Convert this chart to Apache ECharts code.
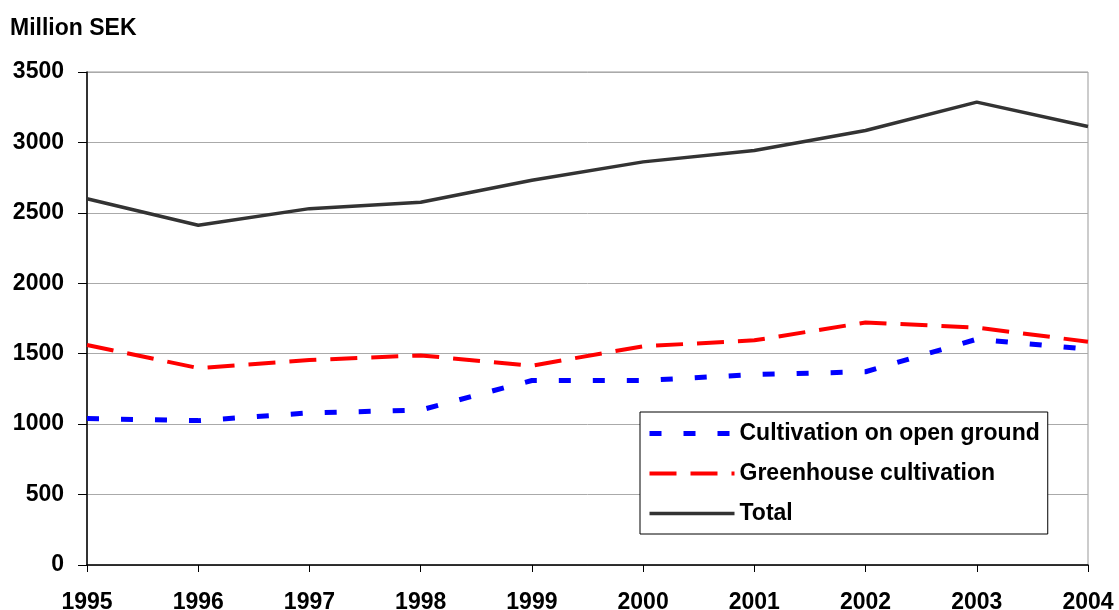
<!DOCTYPE html>
<html>
<head>
<meta charset="utf-8">
<script src="https://cdn.jsdelivr.net/npm/echarts@6/dist/echarts.min.js"></script>
<style>
  html, body { margin: 0; padding: 0; background: #fff; }
  #chart { width: 1119px; height: 610px; }
</style>
</head>
<body>
<div id="chart"></div>
<script>
// data
const years = ['1995', '1996', '1997', '1998', '1999', '2000', '2001', '2002', '2003', '2004']
const openGround = [1040, 1025, 1080, 1100, 1310, 1310, 1352, 1372, 1603, 1532]
const greenhouse = [1562, 1398, 1455, 1488, 1415, 1553, 1595, 1722, 1686, 1585]
const total = [2600, 2412, 2530, 2575, 2732, 2862, 2943, 3085, 3286, 3113]

const font = '"Liberation Sans", Arial, sans-serif'

// line looks, shared by series and legend
const blueLine = { color: '#0000ff', width: 5, type: [12, 22] }
const redLine = { color: '#ff0000', width: 4, type: [27, 14] }
const totalLine = { color: '#333333', width: 3.5, type: 'solid' }
const noSymbol = { color: 'rgba(0,0,0,0)', borderWidth: 0, opacity: 0 }

const chart = echarts.init(document.getElementById('chart'))
const option = {
  animation: false,
  title: {
    text: 'Million SEK',
    left: 10,
    top: 17,
    padding: 0,
    textStyle: { fontFamily: font, fontSize: 23, fontWeight: 'bold', color: '#000' }
  },
  grid: {
    left: 87,
    right: 31,
    top: 72,
    bottom: 45,
    outerBoundsMode: 'none',
    containLabel: false,
    show: true,
    borderColor: '#999',
    borderWidth: 1
  },
  legend: {
    left: 640,
    top: 412,
    orient: 'vertical',
    itemWidth: 85,
    itemHeight: 20,
    itemGap: 17,
    padding: [10, 8, 9, 7],
    borderColor: '#000',
    borderWidth: 1,
    backgroundColor: '#fff',
    data: [
      { name: 'Cultivation on open ground', lineStyle: blueLine, itemStyle: noSymbol },
      { name: 'Greenhouse cultivation', lineStyle: redLine, itemStyle: noSymbol },
      { name: 'Total', lineStyle: totalLine, itemStyle: noSymbol }
    ],
    textStyle: { fontFamily: font, fontSize: 23, fontWeight: 'bold', color: '#000' }
  },
  xAxis: {
    type: 'category',
    data: years,
    boundaryGap: false,
    axisLine: { lineStyle: { color: '#000', width: 1.5 } },
    axisTick: { show: true, length: 7, lineStyle: { color: '#000' } },
    axisLabel: { margin: 26, fontFamily: font, fontSize: 23, fontWeight: 'bold', color: '#000' }
  },
  yAxis: {
    type: 'value',
    min: 0,
    max: 3500,
    interval: 500,
    axisLine: { show: true, lineStyle: { color: '#000', width: 1.5 } },
    axisTick: { show: true, length: 9, lineStyle: { color: '#000' } },
    splitLine: { lineStyle: { color: '#aaa', width: 1 } },
    axisLabel: {
      margin: 23,
      fontFamily: font,
      fontSize: 23,
      fontWeight: 'bold',
      color: '#000',
      formatter: v => String(v)
    }
  },
  series: [
    {
      name: 'Cultivation on open ground',
      type: 'line',
      data: openGround,
      symbol: 'none',
      color: '#0000ff',
      lineStyle: blueLine,
      z: 3
    },
    {
      name: 'Greenhouse cultivation',
      type: 'line',
      data: greenhouse,
      symbol: 'none',
      color: '#ff0000',
      lineStyle: redLine,
      z: 2
    },
    {
      name: 'Total',
      type: 'line',
      data: total,
      symbol: 'none',
      color: '#333333',
      lineStyle: totalLine,
      z: 2
    }
  ]
}
chart.setOption(option)
</script>
</body>
</html>
